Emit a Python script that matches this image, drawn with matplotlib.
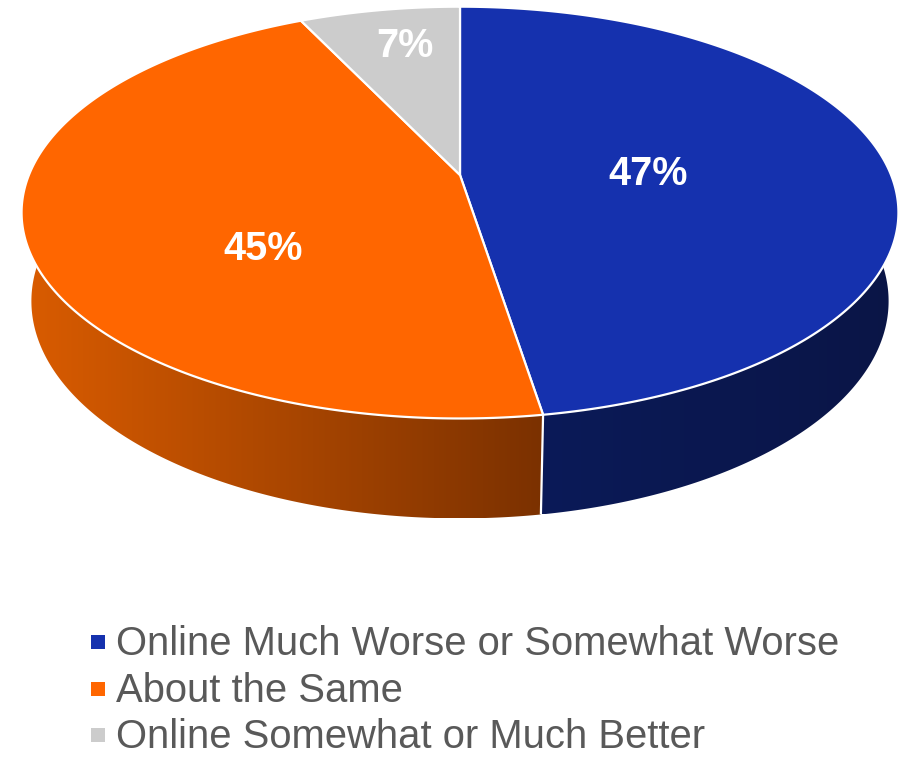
import numpy as np
import matplotlib.pyplot as plt
from matplotlib.patches import Polygon, Rectangle
from matplotlib.colors import LinearSegmentedColormap

plt.rcParams['font.family'] = ['Liberation Sans', 'DejaVu Sans']

categories = ['Online Much Worse or Somewhat Worse',
              'About the Same',
              'Online Somewhat or Much Better']
values = [47, 45, 7]
pct_labels = ['47%', '45%', '7%']

top_colors = ['#1531AE', '#FF6600', '#CCCCCC']
# left -> right shading of the rim for each slice
rim_colors = [('#0B1A58', '#0A1546'), ('#DA5C00', '#7B3100'), ('#A8A8A8', '#8A8A8A')]
legend_color = '#595959'

# simple pinhole camera looking down on a disc of radius 1
ELEV = np.radians(27.5)
DIST = 4.86
FOCAL = 2095.0
CX, CY = 460.0, 175.0
THICK = 0.2335

# where the percentage labels sit (radius along the mid angle, then a pixel nudge)
label_r = [0.44, 0.47, 0.76]
label_nudge = [(0, 6), (2, 45), (8, 1)]


def project(theta, r=1.0, z=0.0):
    X = r * np.sin(theta)
    Y = r * np.cos(theta)
    depth = DIST + Y * np.cos(ELEV) - z * np.sin(ELEV)
    yc = Y * np.sin(ELEV) + z * np.cos(ELEV)
    return CX + FOCAL * X / depth, CY - FOCAL * yc / depth


W, H = 906, 758
fig = plt.figure(figsize=(W / 100, H / 100), dpi=100)
ax = fig.add_axes([0, 0, 1, 1])
ax.set_axis_off()

vals = np.array(values, dtype=float)
edges = np.concatenate([[0], np.cumsum(vals / vals.sum())]) * 2 * np.pi

# rim (side walls), only the half facing the camera
for i in range(len(vals)):
    lo = max(edges[i], np.pi / 2)
    hi = min(edges[i + 1], 3 * np.pi / 2)
    if lo >= hi:
        continue
    th = np.linspace(lo, hi, 200)
    tx, ty = project(th)
    bx, by = project(th[::-1], z=-THICK)
    pts = np.column_stack([np.concatenate([tx, bx]), np.concatenate([ty, by])])
    wall = Polygon(pts, closed=True, facecolor='none', edgecolor='none', zorder=1)
    ax.add_patch(wall)
    cmap = LinearSegmentedColormap.from_list('rim%d' % i, rim_colors[i])
    grad = np.linspace(0, 1, 256)[None, :]
    im = ax.imshow(grad, cmap=cmap, aspect='auto', interpolation='bilinear',
                   extent=[pts[:, 0].min(), pts[:, 0].max(), pts[:, 1].max(), pts[:, 1].min()],
                   zorder=1)
    im.set_clip_path(wall)

# white seams where the rim pieces meet
for e in edges[1:-1]:
    if np.pi / 2 < e < 3 * np.pi / 2:
        x0, y0 = project(e)
        x1, y1 = project(e, z=-THICK)
        ax.plot([x0, x1], [y0, y1], color='white', lw=1.6, zorder=2,
                solid_capstyle='butt')

# top face
for i in range(len(vals)):
    th = np.linspace(edges[i], edges[i + 1], 300)
    ax_, ay_ = project(th)
    cx0, cy0 = project(0.0, r=0.0)
    pts = np.column_stack([np.concatenate([[cx0], ax_]), np.concatenate([[cy0], ay_])])
    ax.add_patch(Polygon(pts, closed=True, facecolor=top_colors[i],
                         edgecolor='white', lw=1.6, joinstyle='round', zorder=3))

# percentage labels
for i in range(len(vals)):
    mid = (edges[i] + edges[i + 1]) / 2
    lx, ly = project(mid, r=label_r[i])
    ax.text(lx + label_nudge[i][0], ly + label_nudge[i][1], pct_labels[i],
            color='white', fontsize=28.5, fontweight='bold',
            ha='center', va='center', zorder=4)

# legend below the pie
leg_x, leg_y0, leg_dy = 91, 641, 46.5
for i, name in enumerate(categories):
    y = leg_y0 + i * leg_dy
    ax.add_patch(Rectangle((leg_x, y - 6), 14, 14, facecolor=top_colors[i],
                           edgecolor='none', zorder=4))
    ax.text(leg_x + 25, y + 14, name, color=legend_color, fontsize=28.8,
            ha='left', va='baseline', zorder=4)

ax.set_xlim(0, W)
ax.set_ylim(H, 0)

fig.savefig('out.png', dpi=100, facecolor='white')
